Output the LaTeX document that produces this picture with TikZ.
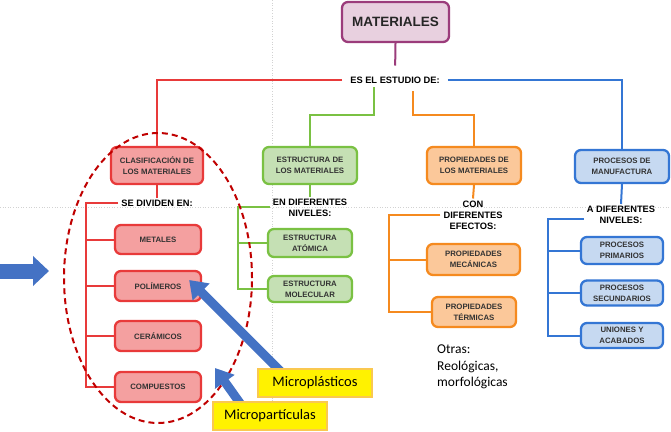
\documentclass[tikz,border=0pt]{standalone}
\usepackage{fontspec}
\setmainfont{Liberation Sans}
\newfontfamily\calibri{Carlito}
\usetikzlibrary{arrows.meta}
\pgfdeclarelayer{background}
\pgfdeclarelayer{foreground}
\pgfdeclarelayer{top}
\pgfsetlayers{background,main,foreground,top}
\definecolor{rojo}{RGB}{232,58,58}
\definecolor{rojoclaro}{RGB}{244,160,160}
\definecolor{verde}{RGB}{122,193,67}
\definecolor{verdeclaro}{RGB}{197,224,180}
\definecolor{naranja}{RGB}{245,138,31}
\definecolor{naranjaclaro}{RGB}{251,200,154}
\definecolor{azul}{RGB}{52,118,212}
\definecolor{azulclaro}{RGB}{198,217,241}
\definecolor{morado}{RGB}{155,60,123}
\definecolor{moradoclaro}{RGB}{232,208,223}
\definecolor{rojooscuro}{RGB}{192,0,0}
\definecolor{flechaazul}{RGB}{68,114,196}
\definecolor{dorado}{RGB}{250,200,80}
\tikzset{
  caja/.style={draw, rounded corners=6pt, line width=2.3pt, align=center, inner sep=1pt,
    font=\bfseries\fontsize{7.8}{10.8}\selectfont, text=black!80},
  etiqueta/.style={align=center, inner xsep=3pt, inner ysep=2pt,
    font=\bfseries\fontsize{9.3}{11}\selectfont},
  linea/.style={line width=2pt},
  guia/.style={gray!35, dotted, line width=0.6pt},
  flecha/.style={flechaazul, line width=9pt, -{Triangle[length=17pt,width=23pt]}},
  nota/.style={draw=dorado, fill=yellow, line width=2.5pt, minimum width=114pt, minimum height=28pt,
    font=\calibri\fontsize{14.5}{16}\selectfont}
}

\begin{document}
\begin{tikzpicture}[x=1pt,y=-1pt]
\useasboundingbox (0,0) rectangle (671,431);
\begin{pgfonlayer}{background}
\fill[white] (0,0) rectangle (671,431);
\draw[guia] (272,0) -- (272,431);
\draw[guia] (0,207) -- (671,207);
\end{pgfonlayer}

% raiz
\node[caja, draw=morado, fill=moradoclaro, text=black!85, font=\bfseries\fontsize{13.5}{15}\selectfont,
  minimum width=107pt, minimum height=40pt] (materiales) at (395.5,22) {MATERIALES};
\node[etiqueta, inner xsep=8pt] (estudio) at (395,80) {ES EL ESTUDIO DE:};
\draw[linea, morado, shorten >=9pt] (materiales.south) -- (estudio.north);

% ramas
\node[caja, draw=rojo, fill=rojoclaro, minimum width=92pt, minimum height=37pt] (clasif) at (157,165.5) {CLASIFICACIÓN DE\\LOS MATERIALES};
\node[caja, draw=verde, fill=verdeclaro, minimum width=94pt, minimum height=37pt] (estructura) at (310,165.5) {ESTRUCTURA DE\\LOS MATERIALES};
\node[caja, draw=naranja, fill=naranjaclaro, minimum width=94pt, minimum height=37pt] (propiedades) at (474,165.5) {PROPIEDADES DE\\LOS MATERIALES};
\node[caja, draw=azul, fill=azulclaro, minimum width=94pt, minimum height=33pt] (procesos) at (622,166.5) {PROCESOS DE\\MANUFACTURA};

\draw[linea, rojo] (estudio.west) -| (clasif.north);
\draw[linea, azul] (estudio.east) -| (procesos.north);
\draw[linea, verde] ([xshift=-21pt,yshift=-2pt]estudio.south) -- ++(0,28) -| (estructura.north);
\draw[linea, naranja] ([xshift=18pt,yshift=-6pt]estudio.south) -- ++(0,24) -| (propiedades.north);

% clasificacion
\node[etiqueta] (dividen) at (157,203) {SE DIVIDEN EN:};
\node[caja, draw=rojo, fill=rojoclaro, minimum width=86pt, minimum height=29pt] (metales) at (158,239.5) {METALES};
\node[caja, draw=rojo, fill=rojoclaro, minimum width=86pt, minimum height=30pt] (polimeros) at (158,286) {POLÍMEROS};
\node[caja, draw=rojo, fill=rojoclaro, minimum width=86pt, minimum height=30pt] (ceramicos) at (158,336) {CERÁMICOS};
\node[caja, draw=rojo, fill=rojoclaro, minimum width=86pt, minimum height=30pt] (compuestos) at (158,387) {COMPUESTOS};
\draw[linea, rojo] (clasif.south) -- (dividen.north);
\coordinate (rt) at (86,203);
\draw[linea, rojo] (dividen.west) -- (rt) |- (compuestos.west);
\foreach \n in {metales,polimeros,ceramicos}
  \draw[linea, rojo] (rt |- \n.west) -- (\n.west);

% estructura
\node[etiqueta] (enniveles) at (310,208) {EN DIFERENTES\\NIVELES:};
\node[caja, draw=verde, fill=verdeclaro, minimum width=84pt, minimum height=28pt] (atomica) at (310,243) {ESTRUCTURA\\ATÓMICA};
\node[caja, draw=verde, fill=verdeclaro, minimum width=84pt, minimum height=26pt] (molecular) at (310,289) {ESTRUCTURA\\MOLECULAR};
\draw[linea, verde] (estructura.south) -- (enniveles.north);
\coordinate (gt) at (238,207);
\draw[linea, verde] (enniveles.west |- gt) -- (gt) |- (molecular.west);
\draw[linea, verde] (gt |- atomica.west) -- (atomica.west);

% propiedades
\node[etiqueta] (efectos) at (473,215) {CON\\DIFERENTES\\EFECTOS:};
\node[caja, draw=naranja, fill=naranjaclaro, minimum width=93pt, minimum height=31pt] (mecanicas) at (473.5,259.5) {PROPIEDADES\\MECÁNICAS};
\node[caja, draw=naranja, fill=naranjaclaro, minimum width=84pt, minimum height=30pt] (termicas) at (474,312) {PROPIEDADES\\TÉRMICAS};
\draw[linea, naranja] (propiedades.south) -- (efectos.north);
\coordinate (ot) at (389,215);
\draw[linea, naranja] (efectos.west |- ot) -- (ot) |- (termicas.west);
\draw[linea, naranja] (ot |- mecanicas.west) -- (mecanicas.west);
\node[anchor=north west, align=left, inner sep=0pt, font=\calibri\fontsize{13.5}{16.5}\selectfont] (otras) at (437,345) {Otras:\\Reológicas,\\morfológicas};

% procesos
\node[etiqueta] (anivel) at (621,215) {A DIFERENTES\\NIVELES:};
\node[caja, draw=azul, fill=azulclaro, minimum width=82pt, minimum height=27pt] (primarios) at (622,250.5) {PROCESOS\\PRIMARIOS};
\node[caja, draw=azul, fill=azulclaro, minimum width=82pt, minimum height=25pt] (secundarios) at (622,293) {PROCESOS\\SECUNDARIOS};
\node[caja, draw=azul, fill=azulclaro, minimum width=82pt, minimum height=25pt] (uniones) at (622,335.5) {UNIONES Y\\ACABADOS};
\draw[linea, azul] (procesos.south) -- (anivel.north);
\coordinate (bt) at (548,219);
\draw[linea, azul] (anivel.west |- bt) -- (bt) |- (uniones.west);
\foreach \n in {primarios,secundarios}
  \draw[linea, azul] (bt |- \n.west) -- (\n.west);

% notas encima
\begin{pgfonlayer}{top}
\node[nota] (microplast) at (315,383) {Microplásticos};
\node[nota] (micropart) at (270,416) {Micropartículas};
\end{pgfonlayer}

\begin{pgfonlayer}{foreground}
\draw[rojooscuro, line width=2pt, dash pattern=on 6pt off 4pt] (158,278) ellipse [x radius=94pt, y radius=145pt];
\draw[flecha, line width=15pt, -{Triangle[length=16pt,width=29pt]}] (0,271) -- (49,271);
\coordinate (punta) at (215,368);
\draw[flecha] ([xshift=-30pt,yshift=-8pt]microplast.north) -- ([xshift=-13pt,yshift=6pt]polimeros.east);
\draw[flecha] ([xshift=-26pt,yshift=-8pt]micropart.north) -- (punta);
\end{pgfonlayer}
\end{tikzpicture}
\end{document}
